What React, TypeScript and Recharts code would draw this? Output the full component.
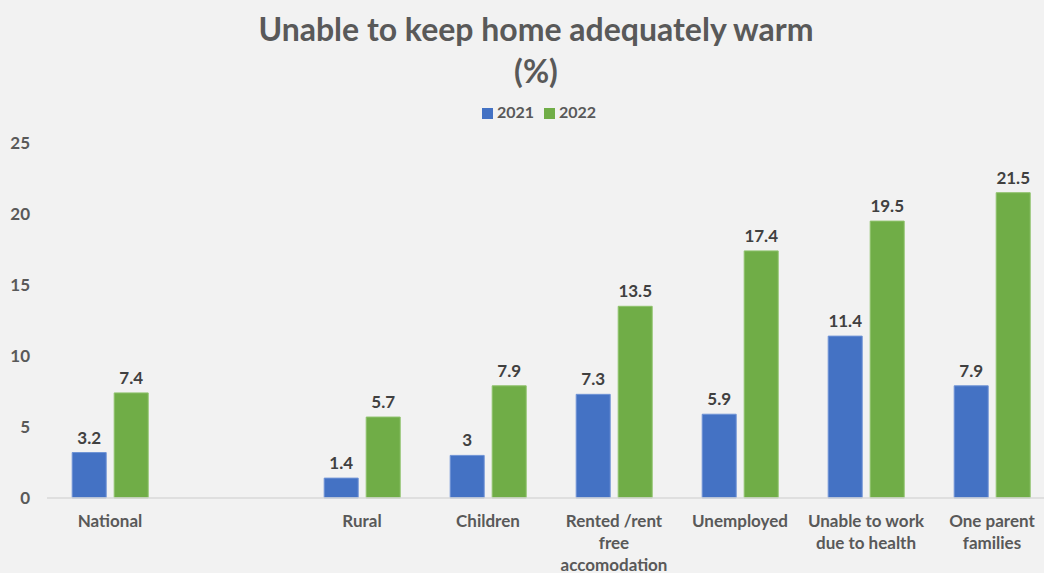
import { BarChart, Bar, XAxis, YAxis, Legend, LabelList } from "recharts";

// categories (blank slot between National and Rural is in the source chart)
const categories = [
  "National",
  "",
  "Rural",
  "Children",
  "Rented /rent\nfree\naccomodation",
  "Unemployed",
  "Unable to work\ndue to health",
  "One parent\nfamilies",
];
const values2021 = [3.2, null, 1.4, 3, 7.3, 5.9, 11.4, 7.9];
const values2022 = [7.4, null, 5.7, 7.9, 13.5, 17.4, 19.5, 21.5];
const yTicks = [0, 5, 10, 15, 20, 25];

const data = categories.map((name, i) => ({
  name,
  y2021: values2021[i],
  y2022: values2022[i],
}));

const FONT = "Lato, 'Open Sans', sans-serif";
const TEXT = "#595959";

function CategoryTick({ x, y, payload }: any) {
  const lines = String(payload.value).split("\n");
  return (
    <text
      x={x}
      y={y}
      textAnchor="middle"
      fill={TEXT}
      fontFamily={FONT}
      fontWeight={700}
      fontSize={17}
    >
      {lines.map((line, i) => (
        <tspan key={i} x={x} dy={i === 0 ? 21 : 22}>
          {line}
        </tspan>
      ))}
    </text>
  );
}

export default function App() {
  return (
    <div
      style={{
        position: "fixed",
        top: 0,
        left: 0,
        width: 1044,
        height: 573,
        overflow: "hidden",
        background: "#f2f2f2",
      }}
    >
      <div
        style={{
          position: "absolute",
          top: 8,
          left: 0,
          width: 1072,
          textAlign: "center",
          fontFamily: FONT,
          fontWeight: 700,
          fontSize: 32,
          lineHeight: "42px",
          color: TEXT,
        }}
      >
        Unable to keep home adequately warm
        <br />
        (%)
      </div>
      <BarChart
        width={1056}
        height={573}
        data={data}
        margin={{ top: 124, right: 1, bottom: 0, left: 0 }}
        barCategoryGap="20%"
        barGap={8}
      >
        <Legend
          verticalAlign="top"
          align="center"
          iconType="square"
          iconSize={11}
          wrapperStyle={{
            top: 102,
            left: 0,
            width: 1088,
            fontFamily: FONT,
            fontWeight: 700,
            fontSize: 16,
          }}
          formatter={(v: string) => <span style={{ color: TEXT }}>{v}</span>}
        />
        <XAxis
          dataKey="name"
          interval={0}
          tickLine={false}
          axisLine={{ stroke: "#d9d9d9", strokeWidth: 1.5 }}
          tick={<CategoryTick />}
          height={75}
        />
        <YAxis
          domain={[0, 25]}
          ticks={yTicks}
          width={47}
          axisLine={false}
          tickLine={false}
          tickMargin={11}
          tick={{ fill: TEXT, fontFamily: FONT, fontWeight: 700, fontSize: 17 }}
        />
        <Bar dataKey="y2021" name="2021" fill="#4472c4" stroke="#6f93d6" strokeWidth={1} isAnimationActive={false}>
          <LabelList
            dataKey="y2021"
            position="top"
            offset={9}
            fill="#404040"
            fontFamily={FONT}
            fontWeight={700}
            fontSize={17}
          />
        </Bar>
        <Bar dataKey="y2022" name="2022" fill="#70ad47" stroke="#8fc26c" strokeWidth={1} isAnimationActive={false}>
          <LabelList
            dataKey="y2022"
            position="top"
            offset={9}
            fill="#404040"
            fontFamily={FONT}
            fontWeight={700}
            fontSize={17}
          />
        </Bar>
      </BarChart>
    </div>
  );
}
